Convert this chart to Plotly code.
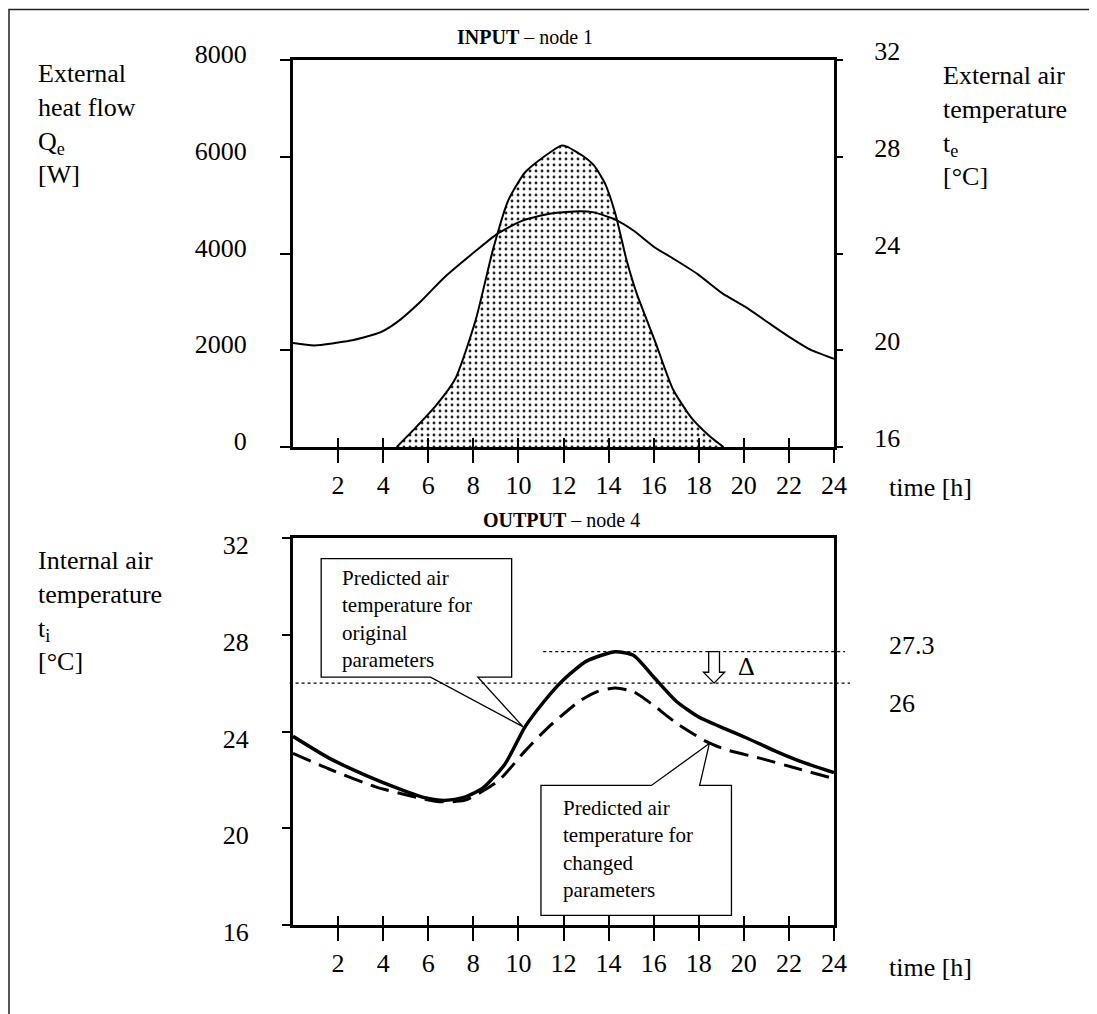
import plotly.graph_objects as go

# ---------------- data ----------------
hour_ticks = [2, 4, 6, 8, 10, 12, 14, 16, 18, 20, 22, 24]
hour_labels = [str(h) for h in hour_ticks]

q_ticks = [0, 2000, 4000, 6000, 8000]
t_ticks = [16, 20, 24, 28, 32]

# INPUT - external heat flow Qe [W]
hours_q = [4.6, 5.4, 6.35, 7.2, 8.1, 8.9, 9.55, 10.3, 11.1, 11.9, 12.15, 12.85,
           13.35, 13.85, 14.3, 14.8, 15.25, 16.05, 16.85, 17.65, 18.45, 19.1]
heat_flow_q = [0, 380, 860, 1410, 2620, 4130, 5100, 5680, 5990, 6230, 6210, 6020,
               5820, 5440, 4820, 3860, 3170, 2200, 1200, 620, 240, 0]

# INPUT - external air temperature te [°C]
hours_te = [0, 0.95, 2.55, 3.9, 4.6, 5.7, 6.7, 8.1, 9.05, 10.15, 11.45, 12.7,
            13.35, 14.3, 15.1, 16.05, 16.85, 17.95, 19.05, 20.05, 21.15, 22.1, 22.9, 24]
ext_temp_te = [20.3, 20.2, 20.4, 20.75, 21.15, 22.05, 23.0, 24.1, 24.8, 25.35, 25.65, 25.75,
               25.7, 25.4, 24.95, 24.25, 23.8, 23.15, 22.35, 21.8, 21.1, 20.5, 20.05, 19.65]

# OUTPUT - internal air temperature ti [°C]
hours_ti = [0, 1.6, 3.2, 4.8, 5.9, 6.7, 7.5, 8.4, 9.4, 10.3, 11.1, 11.9, 13.0, 14.3,
            15.1, 16.05, 17.0, 18.0, 19.2, 20.2, 21.5, 22.7, 24]
ti_original = [23.8, 22.9, 22.2, 21.6, 21.25, 21.15, 21.25, 21.65, 22.65, 24.2, 25.2, 26.05, 26.9, 27.3,
               27.15, 26.2, 25.25, 24.6, 24.1, 23.7, 23.15, 22.7, 22.3]
hours_ti_changed = [0, 1.6, 3.7, 5.6, 6.5, 7.6, 9.1, 10.3, 11.3, 12.7, 13.5, 14.3, 15.1,
                    15.9, 17.0, 18.3, 19.2, 20.7, 22.25, 24]
ti_changed = [23.1, 22.45, 21.7, 21.25, 21.1, 21.15, 21.95, 23.2, 24.15, 25.25, 25.65, 25.8, 25.65,
              25.15, 24.35, 23.6, 23.25, 22.9, 22.5, 22.05]

peak_levels = [27.3, 26]
peak_labels = ["27.3", "26"]

# ---------------- layout constants ----------------
W, H = 1097, 1014
OFF = 8  # page body margin of the html page


def PX(x):
    return (x - OFF) / W


def PY(y):
    return 1 - (y - OFF) / H


XD = [PX(293), PX(834)]
YD_TOP = [PY(447), PY(60)]
YD_BOT = [PY(925), PY(538)]
FONT = "Liberation Serif, Times New Roman, serif"
BIG = 26
SMALL = 21


def px_x(h):
    return XD[0] + h / 24 * (XD[1] - XD[0])


fig = go.Figure()

fig.add_trace(go.Scatter(
    x=hours_q, y=heat_flow_q, xaxis="x", yaxis="y", mode="lines",
    line=dict(color="black", width=2, shape="spline", smoothing=0.6),
    fill="tozeroy", fillcolor="white",
    fillpattern=dict(shape=".", size=6, solidity=0.18, fgcolor="#222", bgcolor="white"),
    showlegend=False, hoverinfo="skip"))
fig.add_trace(go.Scatter(
    x=hours_te, y=ext_temp_te, xaxis="x", yaxis="y2", mode="lines",
    line=dict(color="black", width=2, shape="spline", smoothing=0.6),
    showlegend=False, hoverinfo="skip"))
fig.add_trace(go.Scatter(
    x=hours_ti, y=ti_original, xaxis="x2", yaxis="y3", mode="lines",
    line=dict(color="black", width=3.5, shape="spline", smoothing=0.6),
    showlegend=False, hoverinfo="skip"))
fig.add_trace(go.Scatter(
    x=hours_ti_changed, y=ti_changed, xaxis="x2", yaxis="y3", mode="lines",
    line=dict(color="black", width=3, dash="19px,9px", shape="spline", smoothing=0.6),
    showlegend=False, hoverinfo="skip"))
# empty helpers so that the overlay tick axes exist
fig.add_trace(go.Scatter(x=[], y=[], xaxis="x3", yaxis="y", showlegend=False))
fig.add_trace(go.Scatter(x=[], y=[], xaxis="x4", yaxis="y3", showlegend=False))

tickfont = dict(family=FONT, size=BIG, color="black")
xcommon = dict(range=[0, 24], domain=XD, tickmode="array", tickvals=hour_ticks,
               showgrid=False, zeroline=False, fixedrange=True, automargin=False)

fig.update_layout(
    template="none",
    width=W, height=H, autosize=False,
    margin=dict(l=0, r=0, t=0, b=0, pad=0),
    paper_bgcolor="white", plot_bgcolor="rgba(0,0,0,0)",
    font=dict(family=FONT, color="black"),
    showlegend=False,
    xaxis=dict(**xcommon, anchor="y", ticktext=hour_labels, ticks="outside", ticklen=13,
               tickwidth=1.5, tickcolor="black", showline=True, linewidth=3,
               linecolor="black", mirror=True, tickfont=tickfont, ticklabelstandoff=0),
    xaxis3=dict(**xcommon, anchor="y", overlaying="x", ticks="inside", ticklen=9,
                tickwidth=1.5, tickcolor="black", showticklabels=False, showline=False),
    yaxis=dict(range=[0, 8000], domain=YD_TOP, anchor="x", tickmode="array",
               tickvals=q_ticks, ticktext=[str(v) for v in q_ticks], ticks="outside",
               ticklen=10, tickwidth=1.5, tickcolor="black", showline=True, linewidth=3,
               linecolor="black", showgrid=False, zeroline=False, tickfont=tickfont,
               ticklabelstandoff=28, ticklabelshift=-6, fixedrange=True, automargin=False),
    yaxis2=dict(range=[16, 32], overlaying="y", side="right", anchor="x", tickmode="array",
                tickvals=t_ticks, ticktext=[str(v) for v in t_ticks], ticks="outside",
                ticklen=6, tickwidth=1.5, tickcolor="black", showline=True, linewidth=3,
                linecolor="black", showgrid=False, zeroline=False, tickfont=tickfont,
                ticklabelstandoff=26, ticklabelshift=-9, fixedrange=True, automargin=False),
    xaxis2=dict(**xcommon, anchor="y3", ticktext=hour_labels, ticks="outside", ticklen=13,
                tickwidth=1.5, tickcolor="black", showline=True, linewidth=3,
                linecolor="black", mirror=True, tickfont=tickfont, ticklabelstandoff=0),
    xaxis4=dict(**xcommon, anchor="y3", overlaying="x2", ticks="inside", ticklen=9,
                tickwidth=1.5, tickcolor="black", showticklabels=False, showline=False),
    yaxis3=dict(range=[16, 32], domain=YD_BOT, anchor="x2", tickmode="array",
                tickvals=t_ticks, ticktext=[str(v) for v in t_ticks], ticks="outside",
                ticklen=8, tickwidth=1.5, tickcolor="black", showline=True, linewidth=3,
                linecolor="black", mirror=True, showgrid=False, zeroline=False,
                tickfont=tickfont, ticklabelstandoff=28, ticklabelshift=7, fixedrange=True,
                automargin=False),
)

ann = []


def pann(text, x, y, size=BIG, xanchor="left", yanchor="middle", align="left"):
    ann.append(dict(text=text, x=PX(x), y=PY(y), xref="paper", yref="paper", showarrow=False,
                    xanchor=xanchor, yanchor=yanchor, align=align,
                    font=dict(family=FONT, size=size, color="black")))


pann("<b>INPUT</b> – node 1", 525, 37, size=SMALL - 1, xanchor="center")
pann("<b>OUTPUT</b> – node 4", 561, 520, size=SMALL - 1, xanchor="center")
pann("External<br>heat flow<br>Q<sub>e</sub><br>[W]", 36, 124)
pann("External air<br>temperature<br>t<sub>e</sub><br>[°C]", 941, 126)
pann("Internal air<br>temperature<br>t<sub>i</sub><br>[°C]", 36, 611)
pann("time [h]", 887, 487)
pann("time [h]", 887, 967)
pann(peak_labels[0], 887, 645)
pann(peak_labels[1], 887, 703)

# callout texts and delta (data coordinates of the lower chart)
ann.append(dict(text="Predicted air<br>temperature for<br>original<br>parameters",
                x=2.1, y=28.67, xref="x2", yref="y3", showarrow=False,
                xanchor="left", yanchor="middle", align="left",
                font=dict(family=FONT, size=SMALL, color="black")))
ann.append(dict(text="Predicted air<br>temperature for<br>changed<br>parameters",
                x=11.9, y=19.15, xref="x2", yref="y3", showarrow=False,
                xanchor="left", yanchor="middle", align="left",
                font=dict(family=FONT, size=SMALL, color="black")))
ann.append(dict(text="Δ", x=20.1, y=26.68, xref="x2", yref="y3", showarrow=False,
                xanchor="center", yanchor="middle",
                font=dict(family=FONT, size=BIG, color="black")))
fig.update_layout(annotations=ann)

shapes = []
# outer frame of the figure
shapes.append(dict(type="rect", xref="paper", yref="paper", x0=PX(9), x1=PX(1090),
                   y0=-0.02, y1=PY(9.5), line=dict(color="#222", width=1.5),
                   fillcolor="rgba(0,0,0,0)", layer="above"))


def path(points):
    return "M " + " L ".join(f"{x},{y}" for x, y in points) + " Z"


# callout 1 (original parameters)
c1 = [(1.25, 31.15), (9.7, 31.15), (9.7, 26.25), (8.2, 26.25), (10.2, 24.2),
      (6.1, 26.25), (1.25, 26.25)]
# callout 2 (changed parameters)
c2 = [(11.0, 21.77), (15.9, 21.77), (18.47, 23.5), (18.04, 21.77), (19.45, 21.77),
      (19.45, 16.4), (11.0, 16.4)]
for c in (c1, c2):
    shapes.append(dict(type="path", xref="x2", yref="y3", path=path(c),
                       fillcolor="white", line=dict(color="black", width=1.3), layer="above"))

# dotted reference lines at the two peak levels
shapes.append(dict(type="line", xref="paper", yref="y3", x0=px_x(11.1), x1=PX(845),
                   y0=peak_levels[0], y1=peak_levels[0],
                   line=dict(color="black", width=1.2, dash="dot"), layer="above"))
shapes.append(dict(type="line", xref="paper", yref="y3", x0=px_x(-0.15), x1=PX(850),
                   y0=peak_levels[1], y1=peak_levels[1],
                   line=dict(color="black", width=1.2, dash="dot"), layer="above"))

# hollow down arrow between the two levels
ax = 18.68
top, bot = peak_levels[0], peak_levels[1]
head = bot + 0.45
arrow = [(ax - 0.24, top), (ax + 0.24, top), (ax + 0.24, head), (ax + 0.47, head),
         (ax, bot), (ax - 0.47, head), (ax - 0.24, head)]
shapes.append(dict(type="path", xref="x2", yref="y3", path=path(arrow),
                   fillcolor="white", line=dict(color="black", width=1.3), layer="above"))

fig.update_layout(shapes=shapes)

fig.write_html("out.html")
